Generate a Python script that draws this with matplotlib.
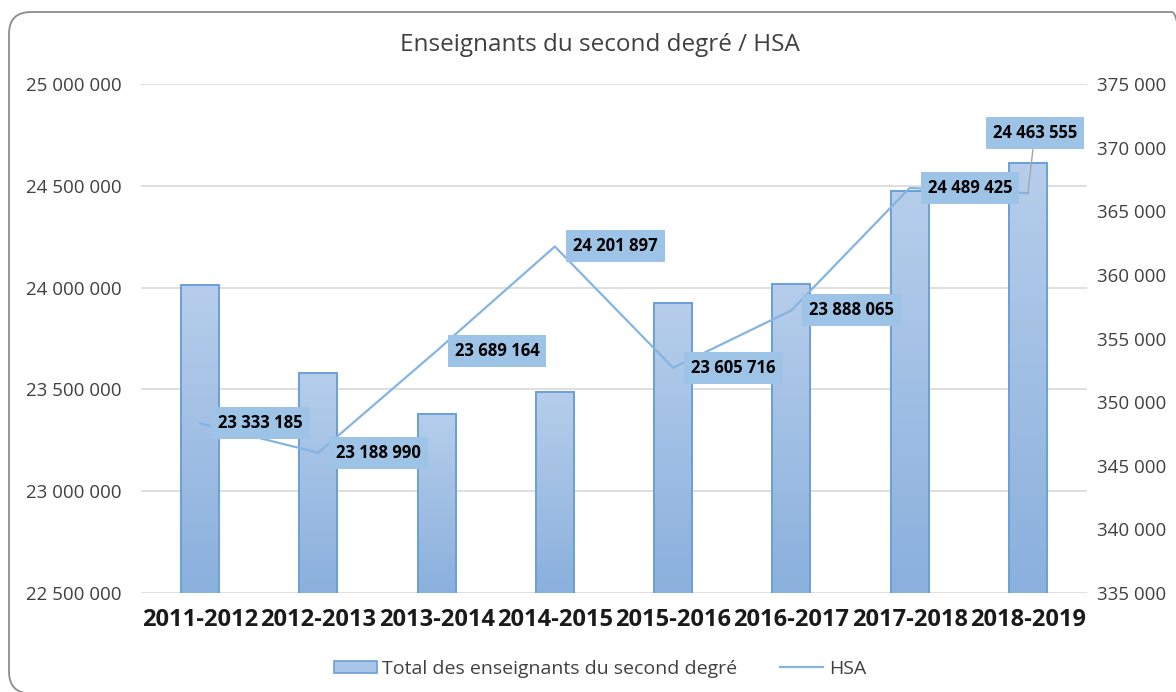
import numpy as np
import matplotlib
matplotlib.use("Agg")
import matplotlib.pyplot as plt
from matplotlib.patches import FancyBboxPatch
from matplotlib.ticker import FuncFormatter
from matplotlib.transforms import blended_transform_factory

plt.rcParams['font.family'] = ['Open Sans', 'DejaVu Sans']

years = ["2011-2012", "2012-2013", "2013-2014", "2014-2015",
         "2015-2016", "2016-2017", "2017-2018", "2018-2019"]
# total teachers (right axis, bars)
teachers = [359200, 352300, 349100, 350800, 357800, 359300, 366600, 368800]
# HSA (left axis, line)
hsa = [23333185, 23188990, 23689164, 24201897, 23605716, 23888065, 24489425, 24463555]
hsa_labels = ["23 333 185", "23 188 990", "23 689 164", "24 201 897",
              "23 605 716", "23 888 065", "24 489 425", "24 463 555"]

left_ticks = np.arange(22500000, 25000001, 500000)
right_ticks = np.arange(335000, 375001, 5000)

fmt = FuncFormatter(lambda v, p: f"{int(round(v)):,}".replace(",", " "))

fig = plt.figure(figsize=(11.76, 6.92), dpi=100)

# rounded frame around the chart (in inches), right side runs off the picture
frame = FancyBboxPatch((0.09, -0.015), 11.85, 6.815,
                       boxstyle="round,pad=0,rounding_size=0.22",
                       transform=fig.dpi_scale_trans, fc="none", ec="#8C8C8C", lw=1.3, zorder=-1)
fig.patches.append(frame)

ax2 = fig.add_axes([141 / 1176, 1 - 593 / 692, 946 / 1176, 509 / 692])
ax = ax2.twinx()
ax.yaxis.tick_left()
ax2.yaxis.tick_right()
ax.set_zorder(ax2.get_zorder() + 1)
ax.patch.set_visible(False)
ax2.patch.set_visible(False)

x = np.arange(len(years))

ax.set_ylim(22500000, 25000000)

# gridlines (left axis ticks) drawn behind the bars
ax2.hlines(left_ticks, 0, 1, transform=blended_transform_factory(ax2.transAxes, ax.transData),
           color="#D9D9D9", lw=1.2, zorder=0)

bars = ax2.bar(x, teachers, width=0.32, bottom=0, fc="none", ec="#6A9FD8", lw=1.4, zorder=2)
grad = np.linspace(0, 1, 256).reshape(-1, 1)
cmap = matplotlib.colors.LinearSegmentedColormap.from_list("g", ["#8AB0DD", "#B6CEEB"])
for b in bars:
    x0, w, h = b.get_x(), b.get_width(), b.get_height()
    im = ax2.imshow(grad, extent=(x0, x0 + w, 335000, h), origin="lower", cmap=cmap,
                    aspect="auto", zorder=1)
    im.set_clip_path(b)
ax2.set_xlim(-0.5, len(years) - 0.5)
ax2.set_ylim(335000, 375000)

ax.plot(x, hsa, color="#86B4E2", lw=1.6, zorder=3)

box = dict(boxstyle="square,pad=0.42", fc="#9DC3E6", ec="none")
for i, (v, lab) in enumerate(zip(hsa, hsa_labels)):
    if i == len(hsa) - 1:
        ax.annotate(lab, (i, v), xytext=(5, 43), textcoords="offset points",
                    ha="center", va="center", fontsize=12, fontweight="bold", bbox=box,
                    arrowprops=dict(arrowstyle="-", color="#A6A6A6", lw=1,
                                    shrinkA=0, shrinkB=0), zorder=5)
    else:
        ax.annotate(lab, (i, v), xytext=(13, 0), textcoords="offset points",
                    ha="left", va="center", fontsize=12, fontweight="bold", bbox=box, zorder=5)

ax.set_yticks(left_ticks)
ax2.set_yticks(right_ticks)
ax.yaxis.set_major_formatter(fmt)
ax2.yaxis.set_major_formatter(fmt)
ax2.set_xticks(x)
ax2.set_xticklabels(years, fontweight="bold")
for a in (ax, ax2):
    for s in a.spines.values():
        s.set_visible(False)
    a.tick_params(length=0, colors="#404040", labelsize=13.5)
ax.tick_params(axis="y", pad=14)
ax2.tick_params(axis="y", pad=7)
ax2.tick_params(axis="x", pad=11, colors="#1A1A1A", labelsize=17)

fig.text(600 / 1176, 1 - 45 / 692, "Enseignants du second degré / HSA", ha="center", va="center",
         fontsize=17.5, color="#404040")

h_bar = matplotlib.patches.Patch(fc="#A9C6E8", ec="#6A9FD8", lw=1.2)
h_line = matplotlib.lines.Line2D([], [], color="#86B4E2", lw=1.6)
fig.legend([h_bar, h_line], ["Total des enseignants du second degré", "HSA"],
           loc="center", bbox_to_anchor=(600 / 1176, 1 - 669 / 692), ncol=2, frameon=False,
           fontsize=14, handlelength=2.2, handleheight=0.6, columnspacing=2.2,
           handletextpad=0.3, labelcolor="#404040")

fig.savefig("out.png", dpi=100)
